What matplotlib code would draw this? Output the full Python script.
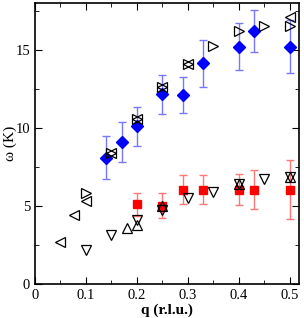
import matplotlib
matplotlib.use("Agg")
import matplotlib.pyplot as plt
from matplotlib.ticker import MultipleLocator

plt.rcParams['font.family'] = ['Liberation Serif', 'DejaVu Serif']

# Blue diamonds with error bars
blue_q = [0.14, 0.17, 0.20, 0.25, 0.29, 0.33, 0.40, 0.43, 0.50]
blue_w = [8.1, 9.1, 10.1, 12.15, 12.1, 14.15, 15.2, 16.2, 15.2]
blue_e = [1.35, 1.3, 1.25, 1.25, 1.15, 1.5, 1.5, 1.35, 1.7]

# Red squares with error bars
red_q = [0.20, 0.25, 0.29, 0.33, 0.40, 0.43, 0.50]
red_w = [5.1, 5.0, 6.05, 6.05, 6.05, 6.05, 6.05]
red_e = [0.75, 0.8, 0.95, 0.95, 1.0, 1.25, 1.9]

# Open triangles
left_q = [0.05, 0.077, 0.10, 0.15, 0.20, 0.25, 0.30, 0.50]
left_w = [2.7, 4.4, 5.3, 8.4, 10.6, 12.6, 14.1, 17.1]
right_q = [0.10, 0.15, 0.20, 0.25, 0.30, 0.35, 0.40, 0.45, 0.50]
right_w = [5.8, 8.4, 10.6, 12.6, 14.1, 15.25, 16.2, 16.5, 16.5]
down_q = [0.10, 0.15, 0.20, 0.25, 0.30, 0.35, 0.40, 0.45, 0.50]
down_w = [2.2, 3.15, 4.1, 4.75, 5.5, 5.9, 6.4, 6.7, 6.85]
up_q = [0.18, 0.20, 0.25, 0.40, 0.50]
up_w = [3.6, 3.75, 5.0, 6.4, 6.85]

fig = plt.figure(figsize=(3.04, 3.18), dpi=100)
ax = fig.add_axes([35/304, 1-284/318, 264/304, 281/318])

ax.errorbar(blue_q, blue_w, yerr=blue_e, fmt='D', color='blue', ms=6.5,
            ecolor='#7878ff', elinewidth=1.0, capsize=3, capthick=1.0, zorder=3)
ax.errorbar(red_q, red_w, yerr=red_e, fmt='s', color='red', ms=6,
            ecolor='#ff7878', elinewidth=1.0, capsize=3, capthick=1.0, zorder=3)

mk = dict(mfc='none', mec='black', mew=0.9, ms=6.5, ls='none', zorder=4)
ax.plot(left_q, left_w, marker='<', **mk)
ax.plot(right_q, right_w, marker='>', **mk)
ax.plot(down_q, down_w, marker='v', **mk)
ax.plot(up_q, up_w, marker='^', **mk)

ax.set_xlim(0, 0.518)
ax.set_ylim(0, 18)
ax.xaxis.set_major_locator(MultipleLocator(0.1))
ax.xaxis.set_minor_locator(MultipleLocator(0.05))
ax.yaxis.set_major_locator(MultipleLocator(5))
ax.yaxis.set_minor_locator(MultipleLocator(2.5))
ax.tick_params(which='both', direction='in', top=True, right=True, labelsize=10.5)
ax.tick_params(which='major', length=5)
ax.tick_params(which='minor', length=3)
ax.set_xticks([0, 0.1, 0.2, 0.3, 0.4, 0.5])
ax.set_xticklabels(['0', '0.1', '0.2', '0.3', '0.4', '0.5'])
for s in ax.spines.values():
    s.set_linewidth(1.2)

ax.set_xlabel('q (r.l.u.)', fontsize=11, fontweight='bold', labelpad=1)
ax.set_ylabel('ω (K)', fontsize=11)
ax.yaxis.set_label_coords(-0.068, 0.5)

fig.savefig('out.png', dpi=100)
